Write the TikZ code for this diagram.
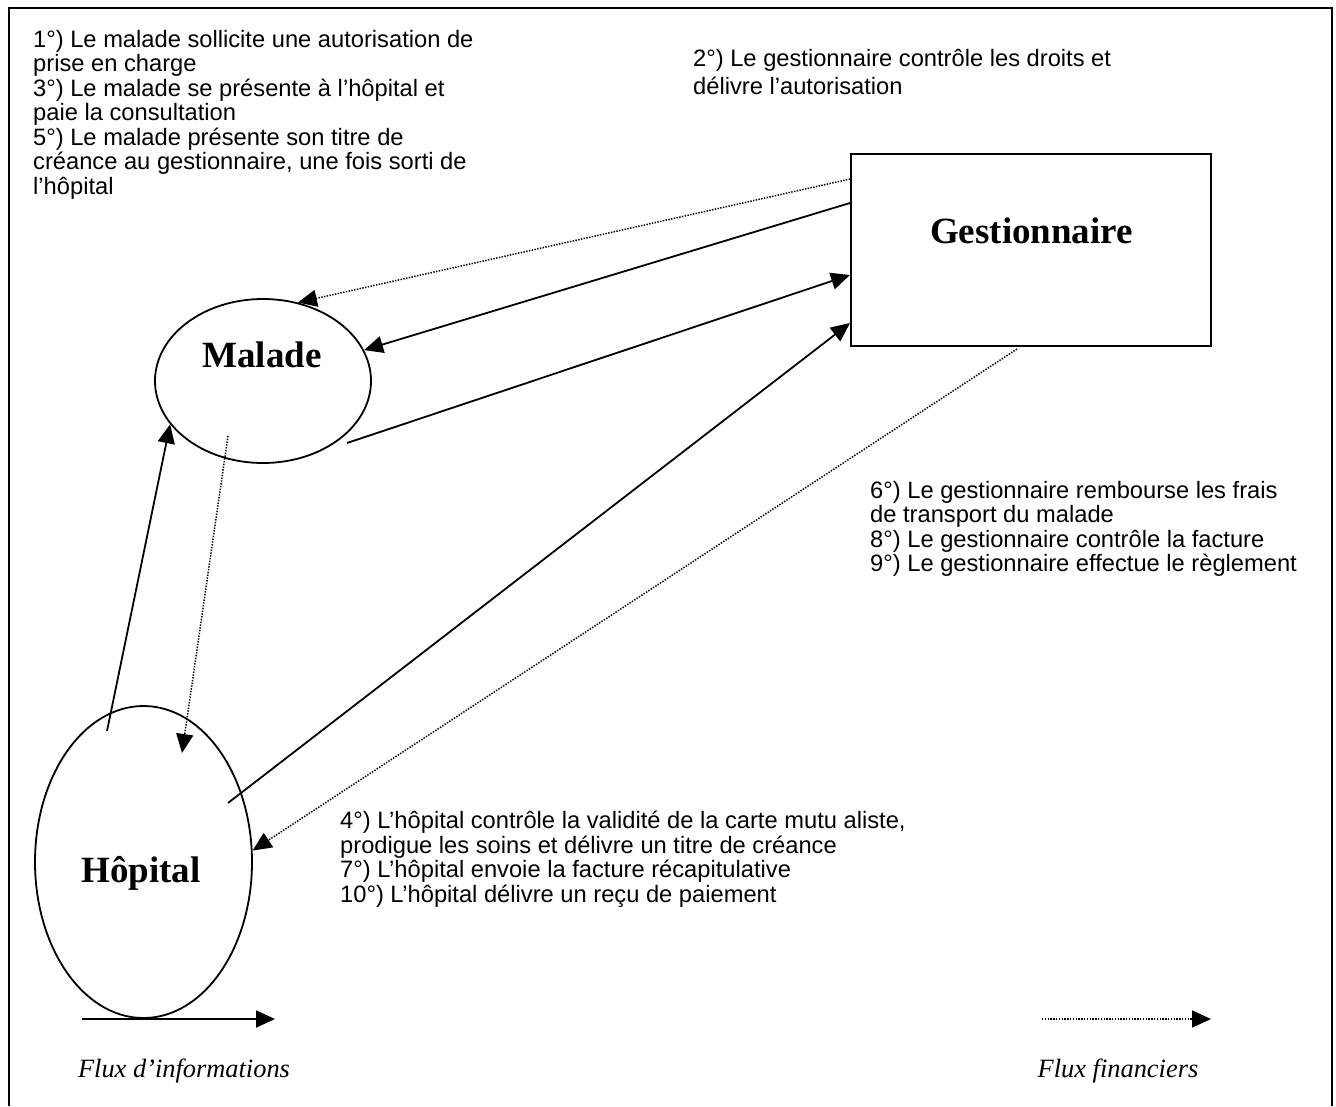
\documentclass[tikz,border=0pt]{standalone}
\usepackage{fontspec}
\setmainfont{Liberation Serif}
\newfontfamily\arialfont{Liberation Sans}
\usetikzlibrary{arrows.meta,shapes.geometric,calc}
\begin{document}
\begin{tikzpicture}[x=1pt,y=-1pt,
  frame/.style={line width=1.8pt},
  gbox/.style={draw,rectangle,line width=2pt,inner sep=0pt,minimum width=360pt,minimum height=192pt},
  oval/.style={draw,ellipse,line width=1.8pt,inner sep=0pt},
  bigtxt/.style={inner sep=0pt,font=\fontsize{37}{40}\selectfont\bfseries},
  blocktxt/.style={inner sep=0pt,anchor=north west,align=left,font=\arialfont\fontsize{23.7}{24.5}\selectfont},
  legtxt/.style={inner sep=0pt,anchor=base,font=\fontsize{26.4}{28}\selectfont\itshape},
  tip/.style={-{Triangle[length=19pt,width=17pt]}},
  info/.style={tip,line width=1.8pt},
  money/.style={tip,line width=1.5pt,dash pattern=on 1.4pt off 1.4pt}]
\useasboundingbox (0,0) rectangle (1336,1106);
\draw[frame] (9,1106) -- (9,8) -- (1332,8) -- (1332,1106);

% main nodes
\node[gbox] (gest) at (1031,250) {};
\node[bigtxt,anchor=base] (gesttxt) at (1031.5,243) {Gestionnaire};
\node[oval,minimum width=216pt,minimum height=164pt] (malade) at (263,381) {};
\node[bigtxt,anchor=base] (maladetxt) at (262,367) {Malade};
\node[oval,minimum width=217pt,minimum height=312pt] (hopital) at (143.5,862) {};
\node[bigtxt,anchor=base] (hopitaltxt) at (141,882) {Hôpital};

% text blocks
\node[blocktxt] (t1) at (33,30) {1°) Le malade sollicite une autorisation de\\prise en charge\\3°) Le malade se présente à l’hôpital et\\paie la consultation\\5°) Le malade présente son titre de\\créance au gestionnaire, une fois sorti de\\l’hôpital};
\node[blocktxt,font=\arialfont\fontsize{23.7}{28}\selectfont] (t2) at (693,49) {2°) Le gestionnaire contrôle les droits et\\délivre l’autorisation};
\node[blocktxt] (t6) at (870,481) {6°) Le gestionnaire rembourse les frais\\de transport du malade\\8°) Le gestionnaire contrôle la facture\\9°) Le gestionnaire effectue le règlement};
\node[blocktxt] (t4) at (340,811) {4°) L’hôpital contrôle la validité de la carte mutu aliste,\\prodigue les soins et délivre un titre de créance\\7°) L’hôpital envoie la facture récapitulative\\10°) L’hôpital délivre un reçu de paiement};

% helper coordinates
\coordinate (m3) at ($(malade.center)+(84,62)$);
\coordinate (m7) at ($(malade.center)+(-35,55)$);
\coordinate (h4) at ($(hopital.center)+(84.5,-59)$);
\coordinate (h6) at ($(hopital.center)+(-36.5,-131)$);
\coordinate (h7) at ($(hopital.center)+(38.5,-109)$);

% connectors
\draw[money] ([yshift=71pt]gest.west) -- (malade.66);
\draw[info] ([yshift=47pt]gest.west) -- (malade.17);
\draw[info] (m3) -- ([yshift=-25pt]gest.west);
\draw[info] (h4) -- ([yshift=-73pt]gest.west);
\draw[money] ([xshift=-14pt,yshift=-2pt]gest.south) -- (hopital.6);
\draw[info] (h6) -- (malade.-155);
\draw[money] (m7) -- (h7);

% legend
\coordinate (la1) at (82,1019);
\coordinate (la2) at (275,1019);
\coordinate (lb1) at (1042,1019);
\coordinate (lb2) at (1211,1019);
\draw[info] (la1) -- (la2);
\draw[money] (lb1) -- (lb2);
\node[legtxt] (leg1) at (184,1077) {Flux d’informations};
\node[legtxt] (leg2) at (1118,1077) {Flux financiers};
\end{tikzpicture}
\end{document}
